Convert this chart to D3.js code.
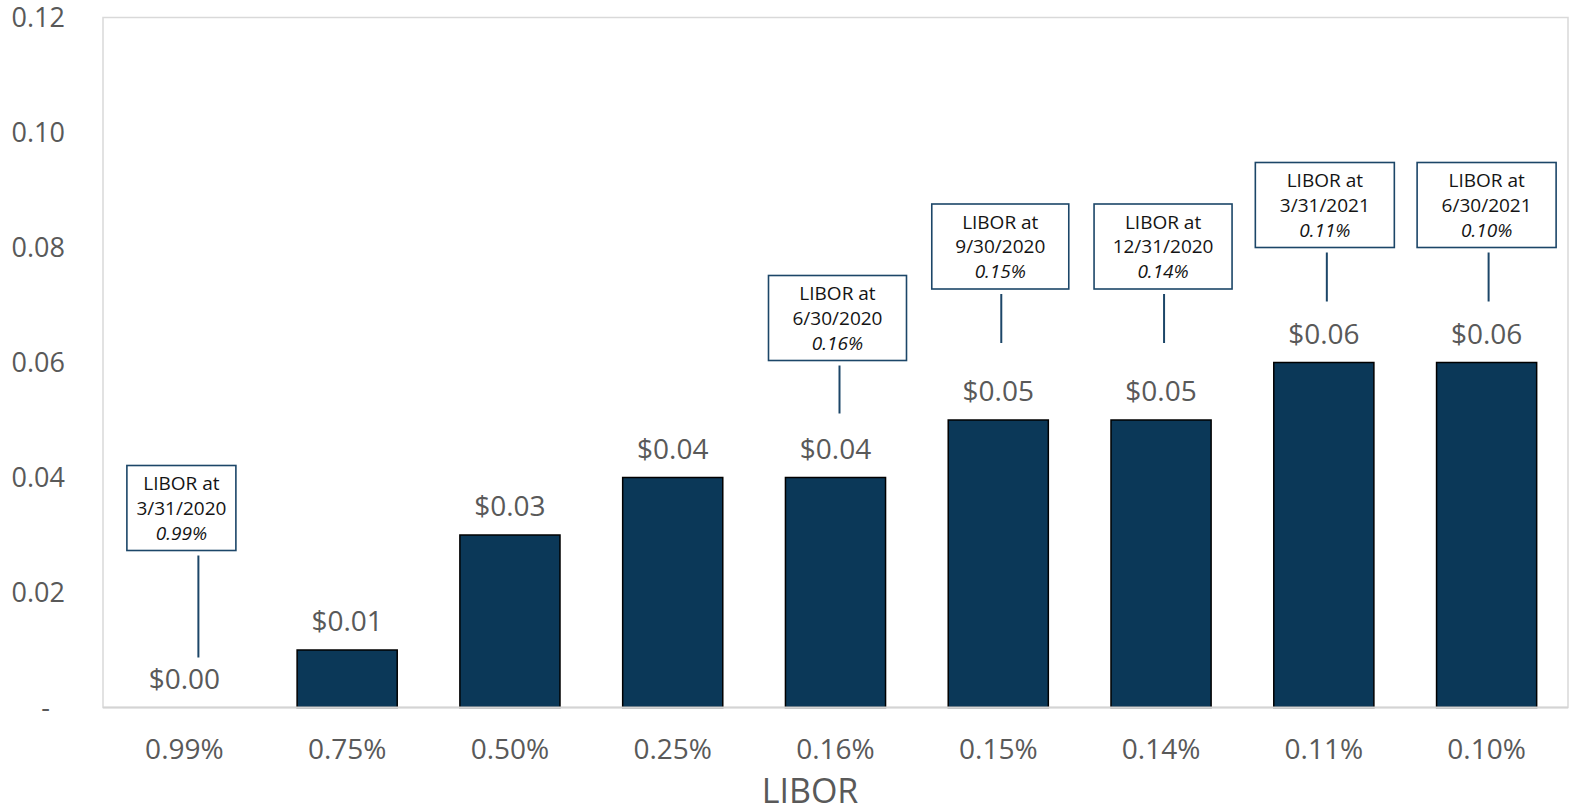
<!DOCTYPE html>
<html>
<head>
<meta charset="utf-8">
<script src="https://cdn.jsdelivr.net/npm/d3@7"></script>
<style>
  html, body { margin: 0; padding: 0; background: #ffffff; }
  svg { display: block; font-family: "Open Sans", "Noto Sans", sans-serif; }
</style>
</head>
<body>
<svg id="chart" width="1570" height="809"></svg>
<script>
// LIBOR rate scenarios and the corresponding per-share values
const categories = ["0.99%", "0.75%", "0.50%", "0.25%", "0.16%", "0.15%", "0.14%", "0.11%", "0.10%"];
const values = [0.00, 0.01, 0.03, 0.04, 0.04, 0.05, 0.05, 0.06, 0.06];
const yTicks = [0, 0.02, 0.04, 0.06, 0.08, 0.10, 0.12];
const axisTitle = "LIBOR";

// Callouts naming the quarter-end LIBOR for selected scenarios
const calloutCategories = ["0.99%", "0.16%", "0.15%", "0.14%", "0.11%", "0.10%"];
const calloutDates = ["3/31/2020", "6/30/2020", "9/30/2020", "12/31/2020", "3/31/2021", "6/30/2021"];
const calloutRates = ["0.99%", "0.16%", "0.15%", "0.14%", "0.11%", "0.10%"];

// Callout placement (pixels above the bar top for the box, gap below the leader line)
const calloutLayout = [
  { lift: 242, gap: 50, width: 109, boxShift: -3, lineShift: 14 },
  { lift: 202, gap: 64, width: 138, boxShift: 2, lineShift: 4 },
  { lift: 216, gap: 77, width: 137, boxShift: 2, lineShift: 3 },
  { lift: 216, gap: 77, width: 138, boxShift: 2, lineShift: 3 },
  { lift: 200, gap: 61, width: 139, boxShift: 1, lineShift: 3 },
  { lift: 200, gap: 61, width: 139, boxShift: 0, lineShift: 2 }
];

const svg = d3.select("#chart");
const plot = { left: 103, right: 1568, top: 17.5, bottom: 707.5 };

const x = d3.scaleBand()
  .domain(categories)
  .range([plot.left, plot.right])
  .paddingInner(0.385)
  .paddingOuter(0.1925);

const y = d3.scaleLinear()
  .domain([0, 0.12])
  .range([plot.bottom, plot.top]);

const textGrey = "#595959";
const barFill = "#0b3858";
const calloutStroke = "#1c4668";

// Plot area frame
svg.append("rect")
  .attr("x", plot.left)
  .attr("y", plot.top)
  .attr("width", plot.right - plot.left)
  .attr("height", plot.bottom - plot.top)
  .attr("fill", "none")
  .attr("stroke", "#d9d9d9")
  .attr("stroke-width", 1.5);

// Bars
svg.append("g").selectAll("rect")
  .data(values)
  .join("rect")
  .attr("x", (d, i) => x(categories[i]))
  .attr("y", d => y(d))
  .attr("width", x.bandwidth())
  .attr("height", d => y(0) - y(d))
  .attr("fill", barFill)
  .attr("stroke", d => d > 0 ? "#000000" : "none")
  .attr("stroke-width", 1.5);

// Category axis baseline
svg.append("line")
  .attr("x1", plot.left).attr("x2", plot.right)
  .attr("y1", plot.bottom).attr("y2", plot.bottom)
  .attr("stroke", "#d4d4d4")
  .attr("stroke-width", 2);

// Value labels above bars
svg.append("g").selectAll("text")
  .data(values)
  .join("text")
  .attr("x", (d, i) => x(categories[i]) + x.bandwidth() / 2)
  .attr("y", d => y(d) - 19)
  .attr("text-anchor", "middle")
  .attr("font-size", 28)
  .attr("fill", textGrey)
  .text(d => "$" + d3.format(".2f")(d));

// Y axis
const yAxis = svg.append("g")
  .attr("transform", `translate(${plot.left},0)`)
  .call(d3.axisLeft(y).tickValues(yTicks).tickSize(0).tickPadding(38)
    .tickFormat(d => d === 0 ? "-" : d3.format(".2f")(d)));
yAxis.select(".domain").remove();
yAxis.selectAll("text")
  .attr("font-size", 27)
  .attr("font-family", "\"Open Sans\", \"Noto Sans\", sans-serif")
  .attr("fill", textGrey);
yAxis.selectAll(".tick").filter(d => d === 0).select("text").attr("x", -53);

// X axis
const xAxis = svg.append("g")
  .attr("transform", `translate(0,${plot.bottom})`)
  .call(d3.axisBottom(x).tickSize(0).tickPadding(31.5));
xAxis.select(".domain").remove();
xAxis.selectAll("text")
  .attr("font-size", 28)
  .attr("font-family", "\"Open Sans\", \"Noto Sans\", sans-serif")
  .attr("fill", textGrey);

// Axis title
svg.append("text")
  .attr("x", 810)
  .attr("y", 803)
  .attr("text-anchor", "middle")
  .attr("font-size", 34)
  .attr("fill", textGrey)
  .text(axisTitle);

// Callouts
const callouts = calloutCategories.map((c, i) => ({
  category: c,
  value: values[categories.indexOf(c)],
  date: calloutDates[i],
  rate: calloutRates[i],
  layout: calloutLayout[i]
}));

const cg = svg.append("g").selectAll("g")
  .data(callouts)
  .join("g");

const boxHeight = 85;

cg.each(function (d) {
  const g = d3.select(this);
  const center = x(d.category) + x.bandwidth() / 2;
  const cx = center + d.layout.boxShift;
  const barTop = y(d.value);
  const top = barTop - d.layout.lift;
  const lineX = center + d.layout.lineShift;

  g.append("rect")
    .attr("x", cx - d.layout.width / 2)
    .attr("y", top)
    .attr("width", d.layout.width)
    .attr("height", boxHeight)
    .attr("fill", "#ffffff")
    .attr("stroke", calloutStroke)
    .attr("stroke-width", 1.6);

  g.append("line")
    .attr("x1", lineX).attr("x2", lineX)
    .attr("y1", top + boxHeight + 5)
    .attr("y2", barTop - d.layout.gap)
    .attr("stroke", calloutStroke)
    .attr("stroke-width", 2);

  const lines = [
    { t: "LIBOR at", italic: false },
    { t: d.date, italic: false },
    { t: d.rate, italic: true }
  ];
  g.selectAll("text")
    .data(lines)
    .join("text")
    .attr("x", cx)
    .attr("y", (l, k) => top + 24.5 + k * 24.8)
    .attr("text-anchor", "middle")
    .attr("font-size", 19)
    .attr("font-style", l => l.italic ? "italic" : "normal")
    .attr("fill", "#141414")
    .text(l => l.t);
});
</script>
</body>
</html>
